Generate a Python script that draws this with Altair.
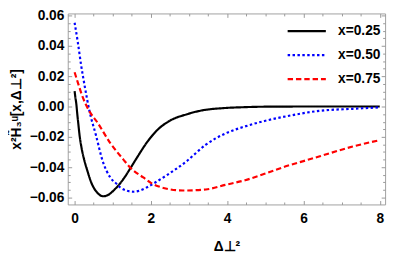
import altair as alt
import pandas as pd

# ---- data ----
d_025 = [0, 0.02, 0.043, 0.07, 0.1, 0.13, 0.18, 0.26, 0.33, 0.43, 0.6, 0.75, 0.9, 1.03, 1.28, 1.455,
         1.64, 1.9, 2.16, 2.5, 2.93, 3.35, 3.87, 4.47, 5.0, 6.0, 7.0, 8.0]
v_025 = [0.0101, 0.006, 0.0021, -0.005, -0.012, -0.019, -0.027, -0.036, -0.042, -0.0497, -0.057, -0.0592,
         -0.0580, -0.0552, -0.0478, -0.0410, -0.0335, -0.0235, -0.0157, -0.0093, -0.0052, -0.0025,
         -0.0011, -0.0004, -0.0001, 0.0, 0.0, 0.0]

d_050 = [0, 0.085, 0.17, 0.27, 0.385, 0.56, 0.73, 0.94, 1.11, 1.2, 1.54, 1.88, 2.0, 2.41, 2.93, 3.44, 3.95,
         4.47, 4.98, 5.58, 6.43, 7.29, 8.0]
v_050 = [0.0553, 0.0422, 0.0274, 0.0127, -0.0025, -0.019, -0.0355, -0.047, -0.0512, -0.0535, -0.0562,
         -0.0535, -0.0518, -0.0454, -0.0362, -0.0252, -0.0178, -0.0131, -0.0095, -0.0063, -0.0028,
         -0.0015, -0.0006]

d_075 = [0, 0.085, 0.21, 0.385, 0.6, 0.94, 1.28, 1.455, 1.8, 2.01, 2.33, 2.84, 3.44, 3.95, 4.47, 4.98,
         5.58, 6.0, 6.43, 7.29, 8.0]
v_075 = [0.0226, 0.0158, 0.0063, -0.003, -0.0106, -0.0243, -0.035, -0.0402, -0.0468, -0.0505, -0.0537,
         -0.0554, -0.0547, -0.0517, -0.0486, -0.0444, -0.0391, -0.0360, -0.0328, -0.0264, -0.0222]

series_names = ["x=0.25", "x=0.50", "x=0.75"]
series_colors = ["#000000", "#0000ff", "#ff0000"]
series_dashes = [[1, 0], [2.5, 2.5], [5.5, 3]]

x_major = [0, 2, 4, 6, 8]
x_minor = [0.5, 1, 1.5, 2.5, 3, 3.5, 4.5, 5, 5.5, 6.5, 7, 7.5]
y_major = [-0.06, -0.04, -0.02, 0.0, 0.02, 0.04, 0.06]
y_minor = [-0.055, -0.05, -0.045, -0.035, -0.03, -0.025, -0.015, -0.01, -0.005,
           0.005, 0.01, 0.015, 0.025, 0.03, 0.035, 0.045, 0.05, 0.055]

x_domain = [-0.18, 8.14]
y_domain = [-0.0646, 0.0614]

rows = []
for name, ds, vs in zip(series_names, [d_025, d_050, d_075], [v_025, v_050, v_075]):
    for d, v in zip(ds, vs):
        rows.append({"d": d, "v": v, "s": name})
df = pd.DataFrame(rows)

W, H = 324, 195
FONT = "Liberation Sans"
TICK = "#999999"

xs = alt.Scale(domain=x_domain, nice=False, zero=False)
ys = alt.Scale(domain=y_domain, nice=False, zero=False)

leg = alt.Legend(title=None, orient="none", legendX=236, legendY=10)

main = alt.Chart(df).mark_line(strokeWidth=2.2, interpolate="monotone").encode(
    x=alt.X("d:Q", scale=xs, axis=alt.Axis(
        title="Δ⊥²", values=x_major, format="d", ticks=False, domain=False, grid=False,
        labelPadding=7, titlePadding=15)),
    y=alt.Y("v:Q", scale=ys, axis=alt.Axis(
        title="x²H̃₃ᵘ[x,Δ⊥²]", values=y_major, format=".2f", ticks=False, domain=False, grid=False,
        labelPadding=4, titlePadding=6)),
    color=alt.Color("s:N", scale=alt.Scale(domain=series_names, range=series_colors), legend=leg),
    strokeDash=alt.StrokeDash("s:N", scale=alt.Scale(domain=series_names, range=series_dashes), legend=leg),
)


def tick_layer(xo, yo, xoff, yoff, xv, yv, size):
    return alt.Chart(df).mark_line(opacity=0).encode(
        x=alt.X("d:Q", scale=xs, axis=alt.Axis(
            orient=xo, offset=xoff, values=xv, tickSize=size, labels=False, domain=False,
            grid=False, title=None, tickColor=TICK)),
        y=alt.Y("v:Q", scale=ys, axis=alt.Axis(
            orient=yo, offset=yoff, values=yv, tickSize=size, labels=False, domain=False,
            grid=False, title=None, tickColor=TICK)),
        detail="s:N",
    )


t1 = tick_layer("top", "right", -H, -W, x_major, y_major, 4)
t2 = tick_layer("top", "right", -H, -W, x_minor, y_minor, 2.5)
t3 = tick_layer("bottom", "left", -H, -W, x_major, y_major, 4)
t4 = tick_layer("bottom", "left", -H, -W, x_minor, y_minor, 2.5)

chart = alt.layer(t1, t2, t3, t4, main).resolve_scale(
    x="shared", y="shared"
).resolve_axis(
    x="independent", y="independent"
).properties(
    width=W, height=H, autosize="none",
    padding={"left": 61, "top": 3, "right": 5, "bottom": 48},
).configure_view(
    stroke="#a0a0a0", strokeWidth=1
).configure_axis(
    labelFont=FONT, labelFontSize=14, labelFontWeight="bold", labelColor="#000000",
    titleFont=FONT, titleFontSize=14, titleFontWeight="bold", titleColor="#000000",
).configure_legend(
    labelFont=FONT, labelFontSize=14, labelFontWeight="bold", labelColor="#000000",
    symbolType="M-3,0H3", symbolSize=169, symbolStrokeWidth=2.2, labelOffset=24,
    rowPadding=9.5,
)

chart.save("out.html", embed_options={"renderer": "svg", "actions": False})
